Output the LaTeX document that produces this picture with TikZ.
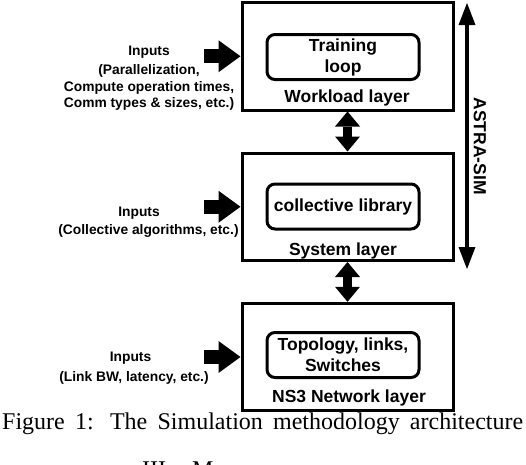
\documentclass[tikz,border=0pt]{standalone}
\usepackage{fontspec}
\setmainfont{Liberation Serif}
\newfontfamily\hvfont{Liberation Sans}
\usetikzlibrary{arrows.meta}
\begin{document}
\begin{tikzpicture}[x=1pt,y=-1pt,
  layer/.style={draw, line width=3pt, minimum width=211pt, minimum height=107.5pt, inner sep=0pt},
  innerbox/.style={draw, line width=3pt, rounded corners=8pt, minimum width=152pt, minimum height=45pt, inner sep=0pt, align=center, font=\hvfont\bfseries\fontsize{17.5}{21}\selectfont},
  lbl/.style={font=\hvfont\bfseries\fontsize{17.5}{20}\selectfont, inner sep=0pt},
  inp/.style={font=\hvfont\bfseries\fontsize{13.8}{16.5}\selectfont, align=center, inner sep=0pt},
  fat/.style={line width=9pt, {Triangle[length=15pt,width=25pt,line width=0pt]}-{Triangle[length=15pt,width=25pt,line width=0pt]}},
  inarrow/.style={line width=14pt, -{Triangle[length=22pt,width=32pt,line width=0pt]}},
  simarrow/.style={line width=4.5pt, {Triangle[length=22pt,width=17pt,line width=0pt]}-{Triangle[length=22pt,width=17pt,line width=0pt]}},
]
\useasboundingbox (0,0) rectangle (526,464);
\clip (0,0) rectangle (526,464);

% layers
\node[layer] (wl) at (347.5,56.25) {};
\node[layer] (sys) at (347.5,206.75) {};
\node[layer] (ns) at (347.5,357) {};

% inner boxes
\node[innerbox] (train) at (343,57) {Training\\loop};
\node[innerbox] (coll) at (343,206.5) {collective library};
\node[innerbox] (topo) at (343,355) {Topology, links,\\Switches};

% layer labels
\node[lbl] (wllbl) at (347,98) {Workload layer};
\node[lbl] (syslbl) at (343,251) {System layer};
\node[lbl] (nslbl) at (349,398) {NS3 Network layer};

% vertical double arrows
\draw[fat] (wl.south) -- (sys.north);
\draw[fat] (sys.south) -- (ns.north);

% input arrows
\coordinate (in1) at (204,56.25);
\coordinate (in2) at (204,206.75);
\coordinate (in3) at (204,357);
\draw[inarrow] (in1) -- (wl.west);
\draw[inarrow] (in2) -- (sys.west);
\draw[inarrow] (in3) -- (ns.west);

% input texts
\node[inp] (i1a) at (149,52.5) {Inputs};
\node[inp] (i1b) at (149,87.5) {(Parallelization,\\Compute operation times,\\Comm types \& sizes, etc.)};
\node[inp] (i2a) at (139,213) {Inputs};
\node[inp] (i2b) at (148.5,231) {(Collective algorithms, etc.)};
\node[inp] (i3a) at (130.5,358) {Inputs};
\node[inp] (i3b) at (134,378) {(Link BW, latency, etc.)};

% ASTRA-SIM arrow
\coordinate (astop) at (467,3);
\coordinate (asbot) at (467,269);
\draw[simarrow] (asbot) -- (astop);
\node[lbl, rotate=-90] (astra) at (480,146) {ASTRA-SIM};

% caption
\node[anchor=base west, inner sep=0pt, font=\fontsize{24}{28}\selectfont] (cap) at (2,429)
  {\makebox[521pt][s]{Figure 1: The Simulation methodology architecture}};
\node[anchor=base west, inner sep=0pt, font=\fontsize{24}{28}\selectfont] (sec) at (142,477) {III.\hspace{20pt}M};
\end{tikzpicture}
\end{document}
